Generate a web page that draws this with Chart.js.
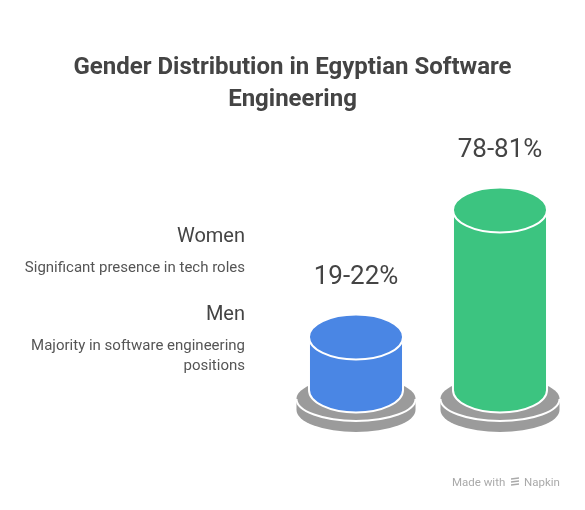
<!DOCTYPE html>
<html>
<head>
<meta charset="utf-8">
<script src="https://cdn.jsdelivr.net/npm/chart.js@4.4.1/dist/chart.umd.min.js"></script>
<style>
  html, body { margin: 0; padding: 0; background: #fff; }
  #wrap { width: 585px; height: 510px; position: relative; }
</style>
</head>
<body>
<div id="wrap"><canvas id="chart"></canvas></div>
<script>
// data
const categories = ["Women", "Men"];
const lowValues = [19, 78];
const highValues = [22, 81];
const descriptions = [
  ["Significant presence in tech roles"],
  ["Majority in software engineering", "positions"],
];
const titleLines = ["Gender Distribution in Egyptian Software", "Engineering"];
const barColors = ["#4a86e4", "#3cc480"];

const yMin = -2.6;
const yMax = 100;

// draws each bar as a cylinder sitting on a grey disc, plus the texts
const cylinders = {
  id: "cylinders",
  afterDatasetsDraw(chart) {
    const ctx = chart.ctx;
    const meta = chart.getDatasetMeta(0);
    meta.data.forEach((bar, i) => {
      const rx = bar.width / 2;
      const ry = 22.5;
      const x = bar.x, top = bar.y, base = bar.base;

      // disc
      const drx = rx + 12.5, dry = 22, dTop = base + 9, dBot = base + 20;
      ctx.save();
      ctx.fillStyle = "#9b9b9b";
      ctx.beginPath();
      ctx.ellipse(x, dBot, drx, dry, 0, 0, Math.PI);
      ctx.lineTo(x - drx, dTop);
      ctx.ellipse(x, dTop, drx, dry, 0, Math.PI, 0);
      ctx.closePath();
      ctx.fill();
      ctx.strokeStyle = "#ffffff";
      ctx.lineWidth = 2;
      ctx.beginPath();
      ctx.ellipse(x, dTop, drx, dry, 0, 0, Math.PI);
      ctx.stroke();

      // body
      ctx.fillStyle = barColors[i];
      ctx.beginPath();
      ctx.moveTo(x - rx, top);
      ctx.lineTo(x - rx, base);
      ctx.ellipse(x, base, rx, ry, 0, Math.PI, 0, true);
      ctx.lineTo(x + rx, top);
      ctx.closePath();
      ctx.fill();
      ctx.stroke();

      // top face
      ctx.beginPath();
      ctx.ellipse(x, top, rx, ry, 0, 0, Math.PI * 2);
      ctx.fill();
      ctx.stroke();

      // value label
      ctx.fillStyle = "#444444";
      ctx.font = "26px Roboto";
      ctx.textAlign = "center";
      ctx.textBaseline = "alphabetic";
      ctx.fillText(lowValues[i] + "-" + highValues[i] + "%", x, top - 53);
      ctx.restore();
    });

    ctx.save();
    // title
    ctx.textAlign = "center";
    ctx.textBaseline = "alphabetic";
    ctx.fillStyle = "#444444";
    ctx.font = "bold 24px Roboto";
    titleLines.forEach((line, k) => ctx.fillText(line, chart.width / 2, 74 + k * 32));

    // legend text on the left
    ctx.textAlign = "right";
    let y = 242;
    categories.forEach((name, i) => {
      ctx.fillStyle = "#444444";
      ctx.font = "20px Roboto";
      ctx.fillText(name, 245, y);
      let dy = y + 30;
      ctx.fillStyle = "#555555";
      ctx.font = "15px Roboto";
      descriptions[i].forEach((line) => {
        ctx.fillText(line, 245, dy);
        dy += 20;
      });
      y += 78;
    });

    // footer
    ctx.textAlign = "left";
    ctx.fillStyle = "#aaaaaa";
    ctx.font = "11.5px Roboto";
    ctx.fillText("Made with", 452, 486);
    ctx.fillText("Napkin", 524, 486);
    ctx.strokeStyle = "#aaaaaa";
    ctx.lineWidth = 1.3;
    for (let k = 0; k < 3; k++) {
      ctx.beginPath();
      ctx.moveTo(511, 479 + k * 3);
      ctx.lineTo(519, 476 + k * 3 + 2);
      ctx.stroke();
    }
    ctx.restore();
  },
};

new Chart(document.getElementById("chart"), {
  type: "bar",
  data: {
    labels: categories,
    datasets: [
      {
        data: highValues,
        base: yMin,
        backgroundColor: "rgba(0,0,0,0)",
        borderWidth: 0,
        barPercentage: 0.653,
        categoryPercentage: 1,
      },
    ],
  },
  options: {
    responsive: true,
    maintainAspectRatio: false,
    animation: false,
    events: [],
    layout: { padding: { top: 169, bottom: 120, left: 284, right: 13 } },
    plugins: {
      legend: { display: false },
      tooltip: { enabled: false },
      title: { display: false },
    },
    scales: {
      x: { display: false },
      y: { display: false, min: yMin, max: yMax },
    },
  },
  plugins: [cylinders],
});
</script>
</body>
</html>
